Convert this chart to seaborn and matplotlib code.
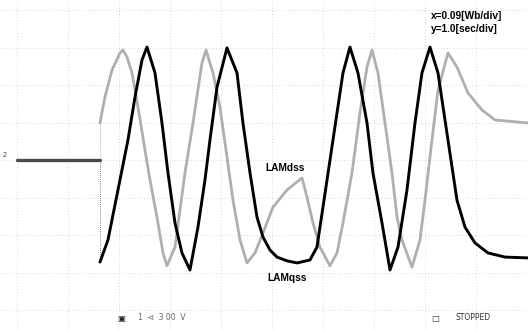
import matplotlib
matplotlib.use("Agg")
import matplotlib.pyplot as plt
import seaborn as sns
import pandas as pd

# time base 1.0 s/div, flux 0.09 Wb/div
SEC_PER_DIV = 1.0
WB_PER_DIV = 0.09

# pre-trigger (both channels sit on the zero level)
pre_t = [0.0, 1.627]
pre_flux = [0.0, 0.0]

# LAMqss (black channel)
qss_t = [1.627, 1.784, 1.980, 2.176, 2.314, 2.451, 2.549, 2.706, 2.843, 2.961,
         3.098, 3.235, 3.392, 3.549, 3.686, 3.784, 3.922, 4.118, 4.314, 4.431,
         4.569, 4.706, 4.824, 4.961, 5.098, 5.294, 5.490, 5.745, 5.882, 6.000,
         6.196, 6.392, 6.529, 6.686, 6.863, 6.980, 7.157, 7.314, 7.471, 7.647,
         7.804, 7.941, 8.098, 8.255, 8.451, 8.627, 8.784, 8.980, 9.235, 9.569,
         10.02]
qss_flux = [-0.245, -0.192, -0.072, 0.048, 0.151, 0.240, 0.271, 0.209, 0.089, -0.031,
            -0.151, -0.223, -0.264, -0.161, -0.048, 0.048, 0.175, 0.269, 0.209, 0.089,
            -0.031, -0.137, -0.185, -0.216, -0.233, -0.242, -0.247, -0.240, -0.209, -0.113,
            0.048, 0.209, 0.271, 0.209, 0.089, -0.031, -0.151, -0.264, -0.209, -0.072,
            0.089, 0.209, 0.271, 0.209, 0.048, -0.096, -0.161, -0.199, -0.223, -0.233,
            -0.235]

# LAMdss (grey channel)
dss_t = [1.627, 1.725, 1.863, 2.020, 2.078, 2.157, 2.255, 2.373, 2.510, 2.608,
         2.745, 2.863, 2.941, 3.098, 3.294, 3.451, 3.627, 3.706, 3.843, 3.980,
         4.118, 4.235, 4.373, 4.510, 4.667, 4.824, 5.020, 5.294, 5.588, 5.686,
         5.804, 5.941, 6.137, 6.275, 6.392, 6.569, 6.725, 6.863, 6.961, 7.078,
         7.216, 7.353, 7.451, 7.549, 7.745, 7.902, 8.000, 8.137, 8.255, 8.451,
         8.627, 8.843, 9.118, 9.373, 10.02]
dss_flux = [0.089, 0.151, 0.216, 0.257, 0.264, 0.247, 0.209, 0.127, 0.024, -0.048,
            -0.137, -0.223, -0.254, -0.209, -0.031, 0.089, 0.233, 0.264, 0.209, 0.127,
            0.007, -0.096, -0.192, -0.247, -0.223, -0.175, -0.113, -0.072, -0.043, -0.089,
            -0.151, -0.209, -0.254, -0.223, -0.151, -0.031, 0.113, 0.223, 0.264, 0.209,
            0.089, -0.031, -0.137, -0.192, -0.257, -0.192, -0.096, 0.048, 0.168, 0.257,
            0.223, 0.161, 0.120, 0.096, 0.089]

sns.set_theme(style="white")
plt.rcParams["font.family"] = ["Liberation Sans", "DejaVu Sans"]

W, H = 528, 330
fig = plt.figure(figsize=(W / 100, H / 100), dpi=100)
ax = fig.add_axes([0, 0, 1, 1])

x_lo, x_hi = -0.333, 10.02
y_lo, y_hi = -0.408, 0.384
ax.set_xlim(x_lo, x_hi)
ax.set_ylim(y_lo, y_hi)

# dotted screen graticule: 10 x 8 divisions
grid_kw = dict(color="#b4b4b4", lw=0.5, ls=(0, (1, 3.5)), zorder=0)
for k in range(0, 10):
    ax.axvline(k * SEC_PER_DIV, **grid_kw)
for k in range(-4, 5):
    ax.axhline(k * WB_PER_DIV, **grid_kw)

df_pre = pd.DataFrame({"t": pre_t, "flux": pre_flux})
df_qss = pd.DataFrame({"t": qss_t, "flux": qss_flux})
df_dss = pd.DataFrame({"t": dss_t, "flux": dss_flux})

grey = "#afafaf"
sns.lineplot(data=df_dss, x="t", y="flux", ax=ax, color=grey, lw=2.0,
             sort=False, estimator=None, zorder=2)
sns.lineplot(data=df_qss, x="t", y="flux", ax=ax, color="black", lw=2.1,
             sort=False, estimator=None, zorder=3)
sns.lineplot(data=df_pre, x="t", y="flux", ax=ax, color="#4a4a4a", lw=2.4,
             sort=False, estimator=None, zorder=3)

# fast edges at the trigger point show only faintly
ax.plot([pre_t[-1], qss_t[0]], [pre_flux[-1], qss_flux[0]], color="#555555",
        lw=0.6, ls=(0, (1, 1.5)), zorder=1)
ax.plot([pre_t[-1], dss_t[0]], [pre_flux[-1], dss_flux[0]], color="#999999",
        lw=0.6, ls=(0, (1, 1.5)), zorder=1)

ax.set_xlabel("")
ax.set_ylabel("")
ax.set_xticks([])
ax.set_yticks([])
for s in ax.spines.values():
    s.set_visible(False)


def px(xp, yp):
    return xp / W, 1 - yp / H


ax.text(*px(431, 16), "x=0.09[Wb/div]", transform=ax.transAxes, fontsize=7.3,
        fontweight="bold", ha="left", va="center", color="black")
ax.text(*px(431, 29), "y=1.0[sec/div]", transform=ax.transAxes, fontsize=7.3,
        fontweight="bold", ha="left", va="center", color="black")
ax.text(*px(265, 168), "LAMdss", transform=ax.transAxes, fontsize=7.3,
        fontweight="bold", ha="left", va="center", color="black")
ax.text(*px(267, 278), "LAMqss", transform=ax.transAxes, fontsize=7.3,
        fontweight="bold", ha="left", va="center", color="black")

# channel marker and status line
ax.text(*px(3, 156), "2", transform=ax.transAxes, fontsize=5, color="#444444",
        ha="left", va="center")
ax.text(*px(117, 318), "▣", transform=ax.transAxes, fontsize=6, color="#222222",
        ha="left", va="center", family=["DejaVu Sans"])
ax.text(*px(138, 318), "1  ⊲  3 00  V", transform=ax.transAxes, fontsize=5.5,
        color="#666666", ha="left", va="center", family=["DejaVu Sans"])
ax.text(*px(431, 318), "□", transform=ax.transAxes, fontsize=6, color="#333333",
        ha="left", va="center", family=["DejaVu Sans"])
ax.text(*px(456, 318), "STOPPED", transform=ax.transAxes, fontsize=5.5,
        color="#333333", ha="left", va="center", family=["DejaVu Sans"])

fig.savefig("out.png", dpi=100)
